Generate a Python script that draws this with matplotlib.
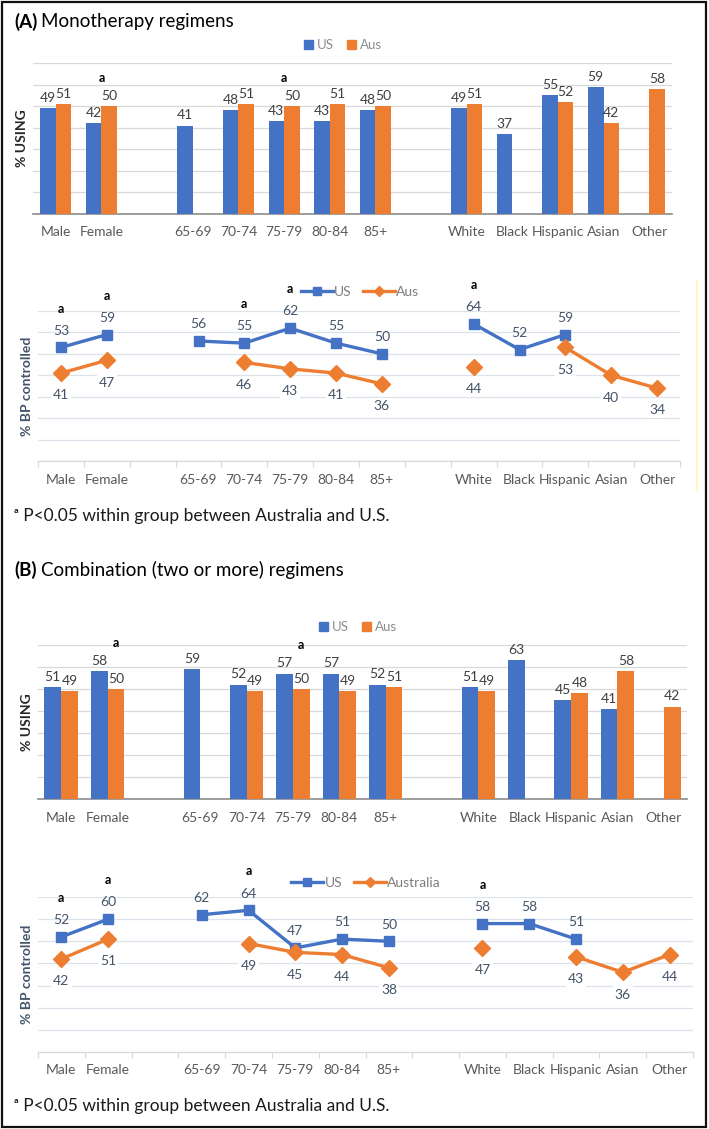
"""
Monotherapy vs combination regimens: US vs Australia.
Two panels, each a grouped bar chart (% using) over a line chart (% BP controlled).
"""

import numpy as np
import matplotlib
matplotlib.use("Agg")
import matplotlib.pyplot as plt
from matplotlib.patches import Patch, Rectangle
from matplotlib.lines import Line2D

plt.rcParams["font.family"] = ["Lato", "DejaVu Sans"]

# ---------------------------------------------------------------------------
# Data (None = no value / spacer slot)
# ---------------------------------------------------------------------------
CATEGORIES = ["Male", "Female", "", "65-69", "70-74", "75-79", "80-84", "85+",
              "", "White", "Black", "Hispanic", "Asian", "Other"]

# (A) Monotherapy
A_USE_US = [49, 42, None, 41, 48, 43, 43, 48, None, 49, 37, 55, 59, None]
A_USE_AUS = [51, 50, None, None, 51, 50, 51, 50, None, 51, None, 52, 42, 58]
A_USE_SIG = [0, 1, 0, 0, 0, 1, 0, 0, 0, 0, 0, 0, 0, 0]

A_BP_US = [53, 59, None, 56, 55, 62, 55, 50, None, 64, 52, 59, None, None]
A_BP_AUS = [41, 47, None, None, 46, 43, 41, 36, None, 44, None, 53, 40, 34]
A_BP_SIG = [1, 1, 0, 0, 1, 1, 0, 0, 0, 1, 0, 0, 0, 0]

# (B) Combination (two or more)
B_USE_US = [51, 58, None, 59, 52, 57, 57, 52, None, 51, 63, 45, 41, None]
B_USE_AUS = [49, 50, None, None, 49, 50, 49, 51, None, 49, None, 48, 58, 42]
B_USE_SIG = [0, 1, 0, 0, 0, 1, 0, 0, 0, 0, 0, 0, 0, 0]

B_BP_US = [52, 60, None, 62, 64, 47, 51, 50, None, 58, 58, 51, None, None]
B_BP_AUS = [42, 51, None, None, 49, 45, 44, 38, None, 47, None, 43, 36, 44]
B_BP_SIG = [1, 1, 0, 0, 1, 0, 0, 0, 0, 1, 0, 0, 0, 0]

# ---------------------------------------------------------------------------
# Style
# ---------------------------------------------------------------------------
W, H = 709, 1129
BLUE = "#4472C4"
ORANGE = "#ED7D31"
TICK_COLOR = "#595959"
LINE_LABEL = "#44546A"


def arr(values):
    return np.array([np.nan if v is None else v for v in values], dtype=float)


def px_axes(fig, x0, x1, ytop, ybase):
    """Create axes from pixel coords (top-left origin)."""
    return fig.add_axes([x0 / W, 1 - ybase / H, (x1 - x0) / W, (ybase - ytop) / H])


def bar_panel(ax, us, aus, sig, bw, sig_dx):
    us, aus = arr(us), arr(aus)
    x = np.arange(len(CATEGORIES))
    ax.bar(x - bw / 2, np.nan_to_num(us), bw, color=BLUE, zorder=3)
    ax.bar(x + bw / 2, np.nan_to_num(aus), bw, color=ORANGE, zorder=3)
    for xi, u, a, s in zip(x, us, aus, sig):
        if not np.isnan(u):
            ax.annotate(f"{u:.0f}", (xi - bw / 2, u), xytext=(0, 3),
                        textcoords="offset points", ha="center", va="bottom",
                        fontsize=10, color="#404040")
        if not np.isnan(a):
            ax.annotate(f"{a:.0f}", (xi + bw / 2, a), xytext=(0, 3),
                        textcoords="offset points", ha="center", va="bottom",
                        fontsize=10, color="#404040")
        if s:
            top = np.nanmax([u, a])
            ax.annotate("a", (xi + sig_dx, top), xytext=(0, 16),
                        textcoords="offset points", ha="center", va="bottom",
                        fontsize=9, fontweight="bold", color="black",
                        annotation_clip=False)
    ax.set_xlim(-0.5, len(CATEGORIES) - 0.5)
    ax.set_ylim(0, 70)
    ax.set_yticks(np.arange(0, 71, 10))
    ax.set_yticklabels([])
    ax.tick_params(axis="y", length=0)
    ax.set_xticks(x)
    ax.set_xticklabels(CATEGORIES, fontsize=10, color=TICK_COLOR)
    ax.tick_params(axis="x", length=0, pad=9)
    ax.grid(axis="y", color="#D9D9D9", lw=0.9, zorder=0)
    for side in ("top", "right", "left"):
        ax.spines[side].set_visible(False)
    ax.spines["bottom"].set_color("#8C8C8C")
    ax.spines["bottom"].set_linewidth(1.2)
    ax.set_ylabel("% USING", fontsize=10, fontweight="bold", color="#262626",
                  labelpad=0)


def line_panel(ax, us, aus, sig):
    us, aus = arr(us), arr(aus)
    x = np.arange(len(CATEGORIES))
    ax.plot(x, us, color=BLUE, lw=2.4, marker="s", ms=7, zorder=4)
    ax.plot(x, aus, color=ORANGE, lw=2.4, marker="D", ms=8, zorder=4)
    for xi, u, a, s in zip(x, us, aus, sig):
        if not np.isnan(u):
            ax.annotate(f"{u:.0f}", (xi, u), xytext=(0, 12),
                        textcoords="offset points", ha="center", va="center",
                        fontsize=10, color=LINE_LABEL, annotation_clip=False)
        if not np.isnan(a):
            ax.annotate(f"{a:.0f}", (xi, a), xytext=(0, -16),
                        textcoords="offset points", ha="center", va="center",
                        fontsize=10, color=LINE_LABEL, zorder=3,
                        bbox=dict(fc="white", ec="none", pad=1.5))
        if s:
            ax.annotate("a", (xi, u), xytext=(0, 28),
                        textcoords="offset points", ha="center", va="center",
                        fontsize=9, fontweight="bold", color="black",
                        annotation_clip=False)
    ax.set_xlim(-0.5, len(CATEGORIES) - 0.5)
    ax.set_ylim(0, 70)
    ax.set_yticks(np.arange(0, 71, 10))
    ax.set_yticklabels([])
    ax.tick_params(axis="y", length=0)
    ax.set_xticks(x)
    ax.set_xticklabels(CATEGORIES, fontsize=10, color=TICK_COLOR)
    ax.set_xticks(np.arange(-0.5, len(CATEGORIES)), minor=True)
    ax.tick_params(axis="x", which="major", length=0, pad=9)
    ax.tick_params(axis="x", which="minor", length=4, color="#D9D9D9", width=0.9)
    ax.grid(axis="y", color="#DCE2EA", lw=0.9, zorder=0)
    for side in ("top", "right", "left"):
        ax.spines[side].set_visible(False)
    ax.spines["bottom"].set_color("#D9D9D9")
    ax.spines["bottom"].set_linewidth(0.9)
    ax.set_ylabel("% BP controlled", fontsize=10, fontweight="bold",
                  color=LINE_LABEL, labelpad=0)


def bar_legend(fig, cx, cy):
    handles = [Patch(color=BLUE, label="US"), Patch(color=ORANGE, label="Aus")]
    fig.legend(handles=handles, loc="center", bbox_to_anchor=(cx / W, 1 - cy / H),
               ncol=2, frameon=False, fontsize=9.5, labelcolor="#8C8C8C",
               handlelength=0.7, handleheight=0.7, handletextpad=0.3,
               columnspacing=1.0)


def line_legend(fig, cx, cy, aus_label):
    handles = [Line2D([], [], color=BLUE, lw=2.4, marker="s", ms=6, label="US"),
               Line2D([], [], color=ORANGE, lw=2.4, marker="D", ms=5, label=aus_label)]
    fig.legend(handles=handles, loc="center", bbox_to_anchor=(cx / W, 1 - cy / H),
               ncol=2, frameon=False, fontsize=10, labelcolor="#7F7F7F",
               handlelength=2.3, handletextpad=0.1, columnspacing=0.8)


def panel_title(fig, y, letter, text):
    t = fig.text(14 / W, 1 - y / H, f"({letter})", fontsize=13.5, fontweight="bold",
                 va="center", ha="left")
    fig.canvas.draw()
    bb = t.get_window_extent()
    fig.text((bb.x1 + 4) / W, 1 - y / H, text, fontsize=13.5, va="center", ha="left")


def footnote(fig, y):
    fig.text(14 / W, 1 - y / H, "ᵃ P<0.05 within group between Australia and U.S.",
             fontsize=12.5, va="center", ha="left", color="#1a1a1a")


# ---------------------------------------------------------------------------
# Figure
# ---------------------------------------------------------------------------
fig = plt.figure(figsize=(W / 100, H / 100), dpi=100)

# panel A
panel_title(fig, 22, "A", "Monotherapy regimens")
ax = px_axes(fig, 33, 672, 63, 214)
bar_panel(ax, A_USE_US, A_USE_AUS, A_USE_SIG, bw=0.34, sig_dx=0)
bar_legend(fig, 343, 45)

ax = px_axes(fig, 38, 680, 311, 461)
line_panel(ax, A_BP_US, A_BP_AUS, A_BP_SIG)
line_legend(fig, 360, 292, "Aus")
footnote(fig, 516)

# panel B
panel_title(fig, 570, "B", "Combination (two or more) regimens")
ax = px_axes(fig, 38, 687, 645, 799)
bar_panel(ax, B_USE_US, B_USE_AUS, B_USE_SIG, bw=0.36, sig_dx=0.18)
bar_legend(fig, 358, 627)

ax = px_axes(fig, 38, 693, 897, 1052)
line_panel(ax, B_BP_US, B_BP_AUS, B_BP_SIG)
line_legend(fig, 366, 883, "Australia")
footnote(fig, 1106)

# faint yellow edge next to the panel A line chart, and the outer frame
fig.add_artist(Line2D([697 / W, 697 / W], [1 - 280 / H, 1 - 490 / H],
                      color="#FFF6B8", lw=1.2, transform=fig.transFigure))
fig.add_artist(Rectangle((2 / W, 2 / H), 704 / W, 1125 / H, fill=False,
                         ec="#111111", lw=1.6, transform=fig.transFigure))

fig.savefig("out.png", dpi=100)
